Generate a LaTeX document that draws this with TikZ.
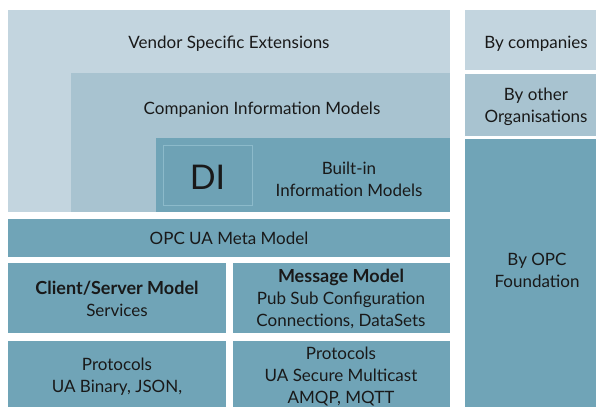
\documentclass[tikz,border=0pt]{standalone}
\usepackage{fontspec}
\setmainfont{Lato}
\definecolor{lightc}{RGB}{195,213,223}
\definecolor{midc}{RGB}{168,195,208}
\definecolor{tealc}{RGB}{112,164,183}
\definecolor{dic}{RGB}{110,162,181}
\definecolor{diedge}{RGB}{140,186,202}
\definecolor{txt}{RGB}{25,25,25}
\begin{document}
\begin{tikzpicture}[x=1pt,y=-1pt,
  box/.style={anchor=north west,inner sep=0,outer sep=0,draw=none},
  lbl/.style={align=center,text=txt,inner sep=0,font=\fontsize{17}{22}\selectfont},
  bld/.style={font=\fontsize{18}{22}\bfseries}]
\useasboundingbox[fill=white] (0,0) rectangle (604,407);
% left stack
\node[box,fill=lightc,minimum width=442,minimum height=202] (vendor) at (8,9.5) {};
\node[box,fill=midc,minimum width=379,minimum height=138.5] (companion) at (71,73) {};
\node[box,fill=tealc,minimum width=294,minimum height=73.5] (builtin) at (156,138) {};
\node[box,fill=dic,draw=diedge,line width=0.8,minimum width=89,minimum height=60] (di) at (163,145) {};
\node[box,fill=tealc,minimum width=442,minimum height=38] (meta) at (8,219) {};
\node[box,fill=tealc,minimum width=218,minimum height=70] (cs) at (8,263) {};
\node[box,fill=tealc,minimum width=217,minimum height=70] (msg) at (233,263) {};
\node[box,fill=tealc,minimum width=218,minimum height=66] (protl) at (8,341) {};
\node[box,fill=tealc,minimum width=217,minimum height=66] (protr) at (233,341) {};
% right column
\node[box,fill=lightc,minimum width=131,minimum height=60.5] (bycomp) at (465,9.5) {};
\node[box,fill=midc,minimum width=131,minimum height=62] (byother) at (465,74) {};
\node[box,fill=tealc,minimum width=131,minimum height=268] (byopc) at (465,139) {};
% texts
\node[lbl] (tvendor) at (229,44) {Vendor Specific Extensions};
\node[lbl] (tcomp) at (262,110) {Companion Information Models};
\node[lbl,font=\fontsize{34}{34}\selectfont] (tdi) at (207.5,177) {DI};
\node[lbl] (tbuiltin) at (349,179) {Built-in\\Information Models};
\node[lbl] (tmeta) at (229,238) {OPC UA Meta Model};
\node[lbl] (tcs) at (117,299) {{\fontsize{18}{22}\selectfont\bfseries Client/Server Model}\\Services};
\node[lbl] (tmsg) at (341,298.5) {{\fontsize{18}{22}\selectfont\bfseries Message Model}\\Pub Sub Configuration\\Connections, DataSets};
\node[lbl] (tprotl) at (117,376.5) {Protocols\\UA Binary, JSON,};
\node[lbl] (tprotr) at (341,376) {Protocols\\UA Secure Multicast\\AMQP, MQTT};
\node[lbl] (tbycomp) at (536,44) {By companies};
\node[lbl] (tbyother) at (536,107) {By other\\Organisations};
\node[lbl] (tbyopc) at (537,270) {By OPC\\Foundation};
\end{tikzpicture}
\end{document}
